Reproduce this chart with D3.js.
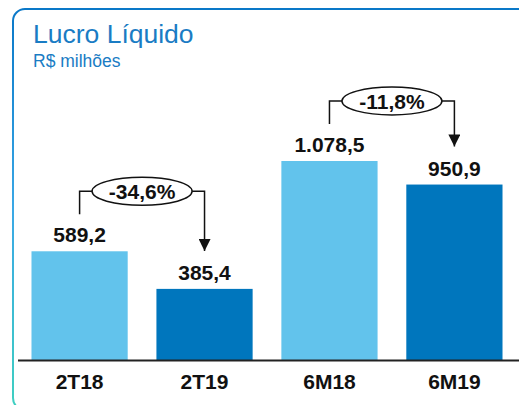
<!DOCTYPE html>
<html>
<head>
<meta charset="utf-8">
<script src="https://cdn.jsdelivr.net/npm/d3@7"></script>
<style>
  body { margin: 0; background: #fff; }
  svg { display: block; font-family: "Liberation Sans", Arial, sans-serif; }
</style>
</head>
<body>
<svg id="chart" width="519" height="405"></svg>
<script>
const categories = ["2T18", "2T19", "6M18", "6M19"];
const values = [589.2, 385.4, 1078.5, 950.9];
const valueLabels = ["589,2", "385,4", "1.078,5", "950,9"];
const changeLabels = ["-34,6%", "-11,8%"];
const changePairs = [[0, 1], [2, 3]];

const width = 519, height = 405;
const baseY = 360;
const lightBlue = "#62c3ec", darkBlue = "#0076bd";

const svg = d3.select("#chart");

// frame with vertical gradient
const defs = svg.append("defs");
const grad = defs.append("linearGradient")
  .attr("id", "frameGrad")
  .attr("x1", 0).attr("y1", 0).attr("x2", 0).attr("y2", 1)
  .attr("gradientUnits", "objectBoundingBox");
grad.append("stop").attr("offset", "0%").attr("stop-color", "#0a78c8");
grad.append("stop").attr("offset", "50%").attr("stop-color", "#3aa8e6");
grad.append("stop").attr("offset", "100%").attr("stop-color", "#3fd0c0");

const r = 12;
const frame = d3.path();
frame.moveTo(width + 2, 9);
frame.lineTo(13 + r, 9);
frame.arcTo(13, 9, 13, 9 + r, r);
frame.lineTo(13, 410 - r);
frame.arcTo(13, 410, 13 + r, 410, r);
frame.lineTo(width + 2, 410);
svg.append("path")
  .attr("d", frame.toString())
  .attr("fill", "none")
  .attr("stroke", "url(#frameGrad)")
  .attr("stroke-width", 2);

// title
svg.append("text")
  .attr("x", 33).attr("y", 43)
  .attr("font-size", 26.5)
  .attr("fill", "#1a7cc4")
  .text("Lucro Líquido");
svg.append("text")
  .attr("x", 33).attr("y", 67)
  .attr("font-size", 17.5)
  .attr("fill", "#1a7cc4")
  .text("R$ milhões");

// scales
const x = d3.scaleBand()
  .domain(categories)
  .range([19, 515])
  .paddingInner(0.23)
  .paddingOuter(0.1);

const y = d3.scaleLinear()
  .domain([0, 1078.5])
  .range([baseY, 161]);

// bars
svg.append("g")
  .selectAll("rect")
  .data(categories)
  .enter().append("rect")
  .attr("x", d => x(d))
  .attr("y", (d, i) => y(values[i]))
  .attr("width", x.bandwidth())
  .attr("height", (d, i) => baseY - y(values[i]))
  .attr("fill", (d, i) => i % 2 === 0 ? lightBlue : darkBlue);

// value labels
svg.append("g")
  .selectAll("text")
  .data(categories)
  .enter().append("text")
  .attr("x", d => x(d) + x.bandwidth() / 2)
  .attr("y", (d, i) => y(values[i]) - 9)
  .attr("text-anchor", "middle")
  .attr("font-size", 21)
  .attr("font-weight", "bold")
  .attr("fill", "#111")
  .text((d, i) => valueLabels[i]);

// baseline + x axis
const xAxis = d3.axisBottom(x).tickSize(0).tickPadding(14);
const axisG = svg.append("g")
  .attr("transform", `translate(0, ${baseY})`)
  .call(xAxis);
axisG.select(".domain").remove();
axisG.selectAll("text")
  .attr("font-size", 21)
  .attr("font-weight", "bold")
  .attr("fill", "#111")
  .attr("font-family", "Liberation Sans, Arial, sans-serif");
svg.append("line")
  .attr("x1", 18).attr("x2", width)
  .attr("y1", baseY + 0.5).attr("y2", baseY + 0.5)
  .attr("stroke", "#222")
  .attr("stroke-width", 2);

// change annotations
defs.append("marker")
  .attr("id", "arrow")
  .attr("viewBox", "0 0 10 10")
  .attr("refX", 10).attr("refY", 5)
  .attr("markerWidth", 13).attr("markerHeight", 12)
  .attr("markerUnits", "userSpaceOnUse")
  .attr("orient", "auto")
  .append("path")
  .attr("d", "M0,0L10,5L0,10Z")
  .attr("fill", "#111");

changePairs.forEach((p, k) => {
  const x0 = x(categories[p[0]]) + x.bandwidth() / 2;
  const x1 = x(categories[p[1]]) + x.bandwidth() / 2;
  const yTop = y(values[p[0]]) - 60;
  const yStart = y(values[p[0]]) - 37;
  const yTip = y(values[p[1]]) - 38;
  const cx = (x0 + x1) / 2;

  svg.append("path")
    .attr("d", `M${x0},${yStart}V${yTop}H${x1}V${yTip}`)
    .attr("fill", "none")
    .attr("stroke", "#111")
    .attr("stroke-width", 1.5)
    .attr("marker-end", "url(#arrow)");

  svg.append("ellipse")
    .attr("cx", cx).attr("cy", yTop)
    .attr("rx", 50).attr("ry", 14)
    .attr("fill", "#fff")
    .attr("stroke", "#111")
    .attr("stroke-width", 1.5);

  svg.append("text")
    .attr("x", cx).attr("y", yTop + 7.5)
    .attr("text-anchor", "middle")
    .attr("font-size", 21)
    .attr("font-weight", "bold")
    .attr("fill", "#111")
    .text(changeLabels[k]);
});
</script>
</body>
</html>
